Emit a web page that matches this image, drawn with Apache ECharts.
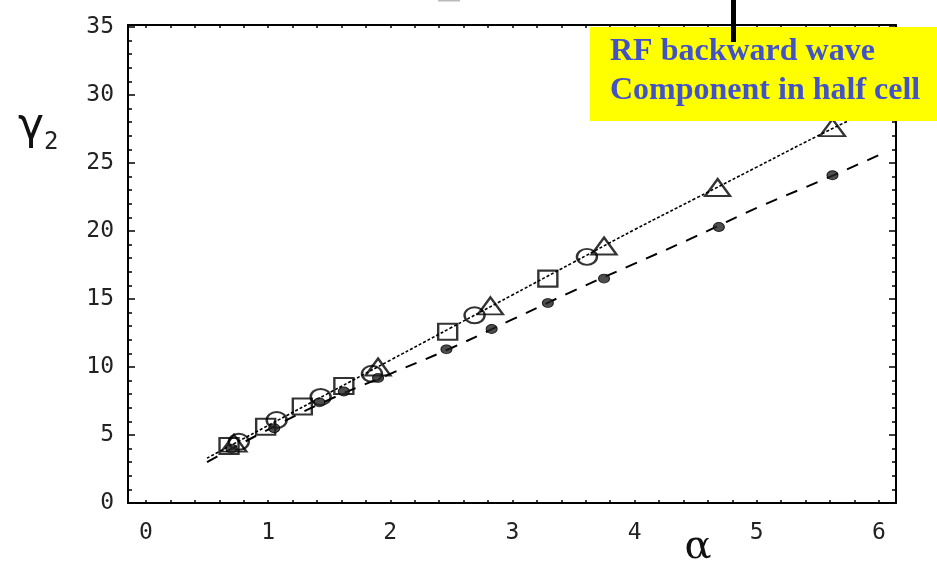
<!DOCTYPE html>
<html>
<head>
<meta charset="utf-8">
<script src="https://cdn.jsdelivr.net/npm/echarts@6/dist/echarts.min.js"></script>
<style>
  html, body { margin: 0; padding: 0; background: #fff; }
  #main { width: 937px; height: 562px; }
</style>
</head>
<body>
<div id="main"></div>
<script>
// curves: [alpha, gamma2]
const solidCurve = [[0.5, 3.3], [1.0, 5.7], [1.5, 8.1], [2.0, 10.5], [2.5, 12.9], [3.0, 15.3],
  [3.5, 17.7], [4.0, 20.1], [4.5, 22.4], [5.0, 24.7], [5.5, 27.0], [6.0, 29.2]];
const dashedCurve = [[0.5, 3.0], [1.0, 5.4], [1.5, 7.6], [2.0, 9.5], [2.5, 11.4], [3.0, 13.5],
  [3.5, 15.6], [4.0, 17.6], [4.5, 19.6], [5.0, 21.7], [5.5, 23.6], [6.03, 25.7]];

// measured points
const squares = [[0.68, 4.2], [0.98, 5.6], [1.28, 7.1], [1.62, 8.6], [2.47, 12.6], [3.29, 16.5]];
const circles = [[0.76, 4.5], [1.07, 6.1], [1.43, 7.8], [1.85, 9.5], [2.69, 13.8], [3.61, 18.1]];
const triangles = [[0.72, 4.4], [1.9, 10.0], [2.82, 14.5], [3.75, 18.9], [4.68, 23.2], [5.62, 27.6]];
const blobs = [[0.7, 4.0], [1.05, 5.5], [1.42, 7.4], [1.62, 8.2], [1.9, 9.2], [2.46, 11.3],
  [2.83, 12.8], [3.29, 14.7], [3.75, 16.5], [4.69, 20.3], [5.62, 24.1]];

const xLabels = [0, 1, 2, 3, 4, 5, 6];
const xTicks = [];
for (let i = 0; i <= 30; i++) xTicks.push(+(i * 0.2).toFixed(1));

const boxLines = ['RF backward wave', 'Component in half cell'];

const ink = '#000';
const monoFont = 'DejaVu Sans Mono';

let myChart = echarts.init(document.getElementById('main'));

const hollow = { color: 'rgba(0,0,0,0)', borderColor: ink, borderWidth: 2.2 };

function xAxisFor(pos, labels) {
  return {
    type: 'value', min: -0.147, max: 6.14, position: pos,
    axisLine: { onZero: false, lineStyle: { color: ink, width: 2 } },
    axisTick: { inside: true, length: 3, customValues: xTicks, lineStyle: { color: ink, width: 1.5 } },
    axisLabel: labels
      ? { customValues: xLabels, color: '#222', fontSize: 23, fontFamily: monoFont, margin: 19 }
      : { show: false },
    splitLine: { show: false }
  };
}

function yAxisFor(pos, labels) {
  return {
    type: 'value', min: 0, max: 35.15, interval: 5, position: pos,
    axisLine: { show: true, onZero: false, lineStyle: { color: ink, width: 2 } },
    axisTick: { show: true, inside: true, length: 7, lineStyle: { color: ink, width: 1.5 } },
    minorTick: { show: true, splitNumber: 5, length: 4, lineStyle: { color: ink, width: 1.5 } },
    axisLabel: labels
      ? { color: '#222', fontSize: 23, fontFamily: monoFont, margin: 14,
          customValues: [0, 5, 10, 15, 20, 25, 30, 35] }
      : { show: false },
    splitLine: { show: false }
  };
}

let option = {
  animation: false,
  backgroundColor: '#fff',
  grid: { left: 128, right: 41, top: 25, bottom: 59 },
  xAxis: [xAxisFor('bottom', true), xAxisFor('top', false)],
  yAxis: [yAxisFor('left', true), yAxisFor('right', false)],
  series: [
    {
      type: 'line', data: solidCurve, smooth: true, showSymbol: false,
      lineStyle: { color: ink, width: 1.6, type: [3, 2] }, z: 2
    },
    {
      type: 'line', data: dashedCurve, smooth: true, showSymbol: false,
      lineStyle: { color: ink, width: 2, type: [12, 10] }, z: 2
    },
    { type: 'scatter', data: squares, symbol: 'rect', symbolSize: [19, 16], itemStyle: hollow, z: 3 },
    { type: 'scatter', data: circles, symbol: 'circle', symbolSize: [20, 16], itemStyle: hollow, z: 3 },
    { type: 'scatter', data: triangles, symbol: 'triangle', symbolSize: [25, 17], itemStyle: hollow, z: 3 },
    {
      type: 'scatter', data: blobs, symbol: 'circle', symbolSize: [11, 9],
      itemStyle: { color: '#222', borderColor: ink, borderWidth: 1 }, z: 3
    }
  ],
  graphic: [
    // y-axis name: gamma with subscript 2
    {
      type: 'text', left: 18, top: 106,
      style: {
        text: '{g|γ}{s|2}',
        rich: {
          g: { fontSize: 44, fontFamily: 'DejaVu Sans', fill: '#111' },
          s: { fontSize: 24, fontFamily: monoFont, fill: '#222', padding: [30, 0, 0, 0] }
        }
      }
    },
    // x-axis name
    {
      type: 'text', x: 698, y: 548,
      style: { text: 'α', fontSize: 40, fontFamily: 'DejaVu Serif', fill: '#111', align: 'center', verticalAlign: 'middle' }
    },
    // cropped title fragment at the top edge
    { type: 'rect', shape: { x: 438, y: 0, width: 22, height: 1.5 }, style: { fill: '#bbb' } },
    // yellow annotation box
    { type: 'rect', z: 100, shape: { x: 590, y: 27, width: 347, height: 94 }, style: { fill: '#ffff00' } },
    {
      type: 'text', z: 101, x: 610, y: 52,
      style: { text: boxLines[0], fontSize: 32, fontWeight: 'bold', fontFamily: 'Liberation Serif',
        fill: '#4252c8', verticalAlign: 'middle' }
    },
    {
      type: 'text', z: 101, x: 610, y: 91,
      style: { text: boxLines[1], fontSize: 32, fontWeight: 'bold', fontFamily: 'Liberation Serif',
        fill: '#4252c8', verticalAlign: 'middle' }
    },
    // black pointer line
    { type: 'rect', z: 102, shape: { x: 731, y: 0, width: 5, height: 42 }, style: { fill: '#000' } }
  ]
};

myChart.setOption(option);
</script>
</body>
</html>
